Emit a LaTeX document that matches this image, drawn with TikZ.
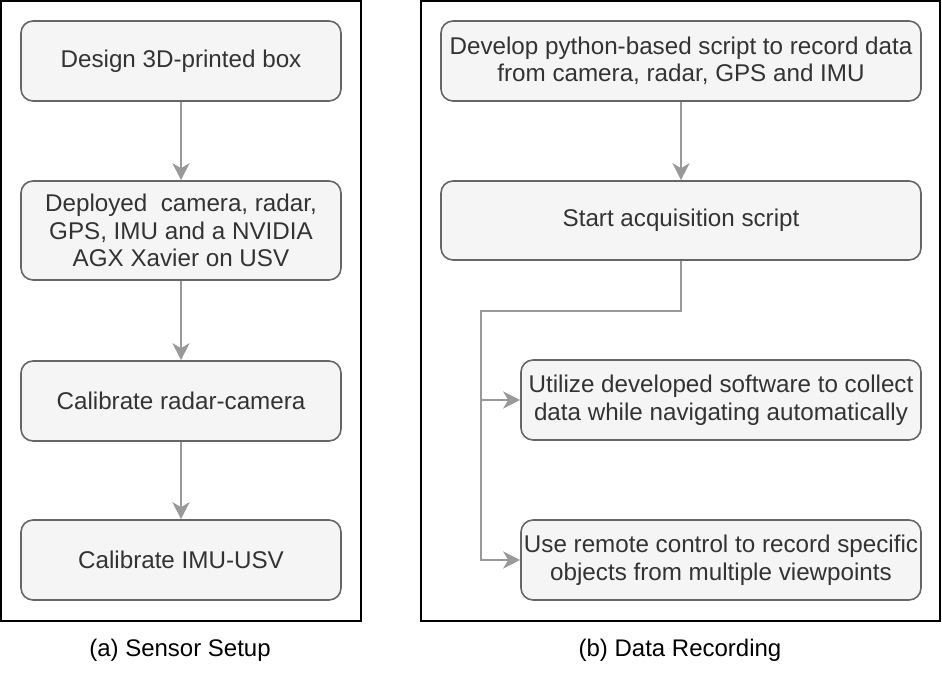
\documentclass[tikz,border=0pt]{standalone}
\usepackage{fontspec}
\setmainfont{Liberation Sans}
\usepackage{xcolor}
\usepackage{tikz}
\usetikzlibrary{positioning,calc,arrows.meta}

\definecolor{boxfill}{HTML}{F5F5F5}
\definecolor{boxline}{HTML}{666666}
\definecolor{boxtext}{HTML}{333333}
\definecolor{connline}{HTML}{999999}

\begin{document}
\begin{tikzpicture}[
                x=1pt, y=-1pt,
                stepbox/.style={draw=boxline, fill=boxfill, line width=1.6pt, rounded corners=12pt,
                    text=boxtext, align=center, inner sep=0pt,
                    font=\fontsize{24.2}{27.5}\selectfont},
                panel/.style={draw=black, line width=2.4pt},
                caption/.style={font=\fontsize{24}{27.5}\selectfont},
                arrow/.style={-{Stealth[length=17pt, width=17pt, inset=5pt]}, draw=connline, line width=1.8pt}
            ]
                \useasboundingbox (0,0) rectangle (942,682);

                % panel frames
                \draw[panel] (1,1) rectangle (361,621);
                \draw[panel] (421,1) rectangle (940,621);

                % (a) sensor setup
                \node[stepbox, minimum width=320pt, minimum height=80pt] (design) at (181,61) {Design 3D-printed box};
                \node[stepbox, minimum width=320pt, minimum height=99pt] (deploy) at (181,230.5) {Deployed\ \ camera, radar,\\GPS, IMU and a NVIDIA\\AGX Xavier on USV};
                \node[stepbox, minimum width=320pt, minimum height=80pt] (calrc) at (181,401) {Calibrate radar-camera};
                \node[stepbox, minimum width=320pt, minimum height=80pt] (calimu) at (181,560) {Calibrate IMU-USV};

                % (b) data recording
                \node[stepbox, minimum width=480pt, minimum height=80pt] (script) at (681,61) {Develop python-based script to record data\\from camera, radar, GPS and IMU};
                \node[stepbox, minimum width=480pt, minimum height=79pt] (start) at (681,220.5) {Start acquisition script};
                \node[stepbox, minimum width=400pt, minimum height=80pt] (auto) at (721,400) {Utilize developed software to collect\\data while navigating automatically};
                \node[stepbox, minimum width=400pt, minimum height=80pt] (remote) at (721,560) {Use remote control to record specific\\objects from multiple viewpoints};
                \coordinate (split) at (481,311);

                \draw[arrow] (design) -- (deploy);
                \draw[arrow] (deploy) -- (calrc);
                \draw[arrow] (calrc) -- (calimu);
                \draw[arrow] (script) -- (start);
                \draw[arrow] (start.south) |- (split) |- (remote.west);
                \draw[arrow] (split |- auto.west) -- (auto.west);

                % captions
                \node[caption] (capa) at (180,650) {(a) Sensor Setup};
                \node[caption] (capb) at (680,650) {(b) Data Recording};
            \end{tikzpicture}
\end{document}
